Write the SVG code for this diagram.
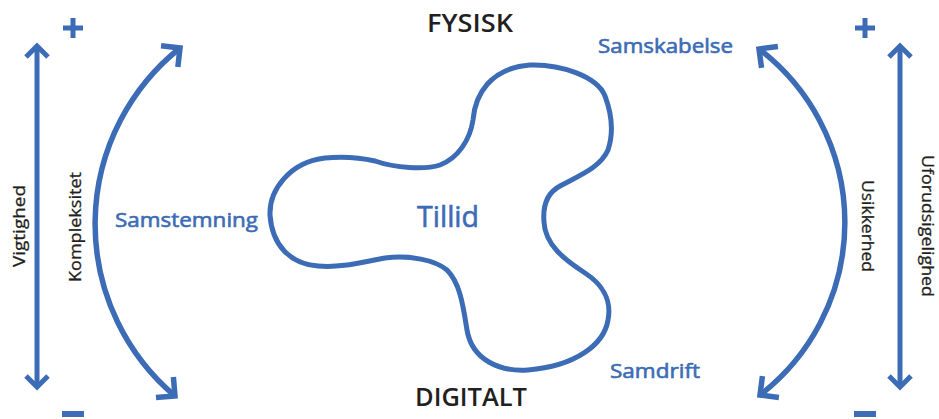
<svg xmlns="http://www.w3.org/2000/svg" width="939" height="419" viewBox="0 0 939 419">
  <style>
    .ln { fill: none; stroke: #3b6cb5; stroke-width: 5; }
    .arc { fill: none; stroke: #3b6cb5; stroke-width: 5.5; }
    .blue { fill: #3b6cb5; stroke: #3b6cb5; stroke-width: 0.6; font-family: "Open Sans", "Noto Sans", sans-serif; }
    .dark { fill: #231f20; font-family: "Open Sans", "Noto Sans", sans-serif; }
    .title { font-size: 26px; font-weight: 600; text-anchor: middle; }
    .axis { font-size: 17px; text-anchor: middle; stroke: #231f20; stroke-width: 0.3; }
    .lbl { font-size: 20px; }
    .sign { fill: #3b6cb5; }
  </style>
  <defs>
    <marker id="chevS" markerUnits="userSpaceOnUse" orient="auto-start-reverse" refX="0" refY="0" markerWidth="40" markerHeight="40" viewBox="-20 -20 40 40" overflow="visible">
      <path d="M-11,-11 L0,0 L-11,11" fill="none" stroke="#3b6cb5" stroke-width="5"/>
    </marker>
    <marker id="chevL" markerUnits="userSpaceOnUse" orient="auto-start-reverse" refX="0" refY="0" markerWidth="40" markerHeight="40" viewBox="-20 -20 40 40" overflow="visible">
      <path d="M-13.5,-13.5 L0,0 L-13.5,13.5" fill="none" stroke="#3b6cb5" stroke-width="5.5"/>
    </marker>
  </defs>

  <!-- axis titles -->
  <g id="fysisk"><text class="dark title" x="470" y="32" textLength="86" lengthAdjust="spacingAndGlyphs">FYSISK</text></g>
  <g id="digitalt"><text class="dark title" x="471" y="406" textLength="112" lengthAdjust="spacingAndGlyphs">DIGITALT</text></g>

  <!-- plus / minus signs -->
  <g id="signs">
    <rect class="sign" x="70.5" y="18" width="5" height="20"/>
    <rect class="sign" x="63" y="25.5" width="20" height="5"/>
    <rect class="sign" x="862.5" y="18" width="5" height="20"/>
    <rect class="sign" x="855" y="25.5" width="20" height="5"/>
    <rect class="sign" x="62" y="411" width="22" height="6"/>
    <rect class="sign" x="854" y="411" width="22" height="6"/>
  </g>

  <!-- central trust shape -->
  <g id="tillid">
    <path class="ln" d="M530,65 C560,64 597,76 605,96 C611,112 614,132 608,150 C600,168 578,176 560,186 C545,194 543,210 544,222 C545,245 565,260 585,273 C602,284 612,300 608,320 C604,345 575,366 528,370 C500,372 472,360 467,330 C463,305 460,283 447,270 C435,260 410,255 385,258 C362,262 342,268 318,266 C290,264 272,245 270,215 C269,190 290,162 325,158 C345,156 362,158 375,161 C395,168 425,170 440,165 C458,158 470,140 473,120 C475,95 490,68 530,65 Z"/>
    <text class="blue" x="448" y="227" font-size="30" text-anchor="middle" textLength="62" lengthAdjust="spacingAndGlyphs">Tillid</text>
  </g>

  <!-- corner labels -->
  <g id="samstemning"><text class="blue lbl" x="115" y="227" textLength="143" lengthAdjust="spacingAndGlyphs">Samstemning</text></g>
  <g id="samskabelse"><text class="blue lbl" x="598" y="53" textLength="135" lengthAdjust="spacingAndGlyphs">Samskabelse</text></g>
  <g id="samdrift"><text class="blue lbl" x="610" y="378" textLength="90" lengthAdjust="spacingAndGlyphs">Samdrift</text></g>

  <!-- vertical axis labels -->
  <g id="vigtighed"><text class="dark axis" transform="translate(25,226) rotate(-90)" textLength="82" lengthAdjust="spacingAndGlyphs">Vigtighed</text></g>
  <g id="kompleksitet"><text class="dark axis" transform="translate(81,227) rotate(-90)" textLength="110" lengthAdjust="spacingAndGlyphs">Kompleksitet</text></g>
  <g id="usikkerhed"><text class="dark axis" transform="translate(862,226) rotate(90)" textLength="92" lengthAdjust="spacingAndGlyphs">Usikkerhed</text></g>
  <g id="uforudsigelighed"><text class="dark axis" transform="translate(922,226) rotate(90)" textLength="142" lengthAdjust="spacingAndGlyphs">Uforudsigelighed</text></g>

  <!-- connectors -->
  <g id="connectors">
    <path class="ln" d="M37,46 L37,387" marker-start="url(#chevS)" marker-end="url(#chevS)"/>
    <path class="ln" d="M900,46 L900,387" marker-start="url(#chevS)" marker-end="url(#chevS)"/>
    <path class="arc" d="M180,48 A225,225 0 0 0 175,396" marker-start="url(#chevL)" marker-end="url(#chevL)"/>
    <path class="arc" d="M759,49 A218,218 0 0 1 760,395" marker-start="url(#chevL)" marker-end="url(#chevL)"/>
  </g>
</svg>
